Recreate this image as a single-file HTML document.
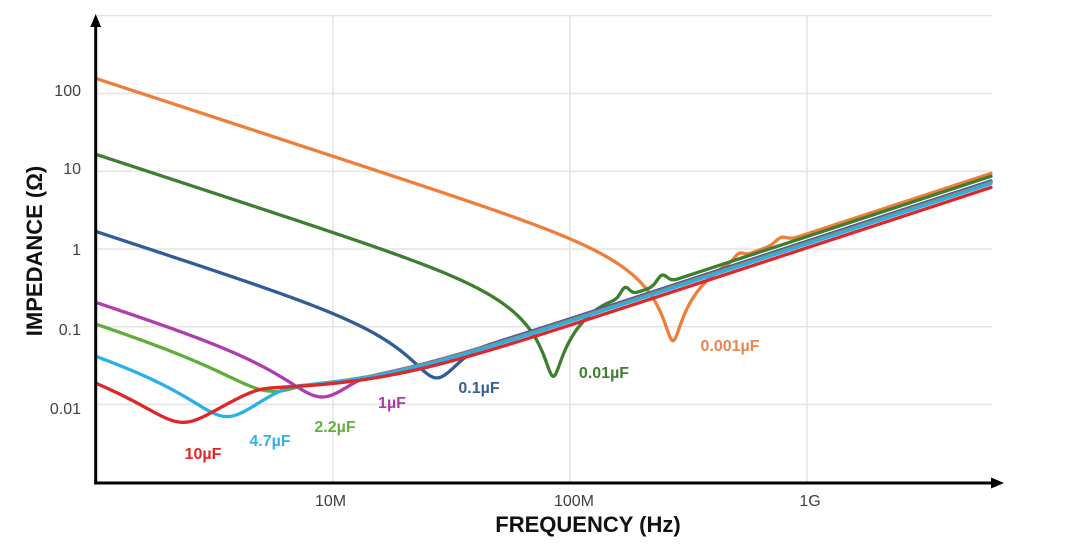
<!DOCTYPE html>
<html><head><meta charset="utf-8"><style>
html,body{margin:0;padding:0;background:#fff;}
svg{display:block;}
text{font-family:"Liberation Sans",Arial,sans-serif;}
</style></head><body>
<svg id="s" width="1080" height="549" viewBox="0 0 1080 549" xmlns="http://www.w3.org/2000/svg">
<rect width="1080" height="549" fill="#fff"/>
<g stroke="#e4e4e4" stroke-width="1.5" fill="none">
<line x1="97" y1="15.5" x2="992" y2="15.5"/>
<line x1="97" y1="93.5" x2="992" y2="93.5"/>
<line x1="97" y1="171.2" x2="992" y2="171.2"/>
<line x1="97" y1="249" x2="992" y2="249"/>
<line x1="97" y1="326.7" x2="992" y2="326.7"/>
<line x1="97" y1="404.4" x2="992" y2="404.4"/>
<line x1="333" y1="15.5" x2="333" y2="482"/>
<line x1="570" y1="15.5" x2="570" y2="482"/>
<line x1="807" y1="15.5" x2="807" y2="482"/>
</g>
<g id="curves" fill="none" stroke-width="3.3" stroke-linejoin="round" stroke-linecap="round"></g>
<g stroke="#000" stroke-width="3" fill="none">
<line x1="95.7" y1="484.5" x2="95.7" y2="25"/>
<line x1="94.2" y1="483" x2="993" y2="483"/>
</g>
<polygon points="95.7,14 90.3,27 101.1,27" fill="#000"/>
<polygon points="1004,483 991,477.5 991,488.5" fill="#000"/>
<g font-size="16" fill="#404040" text-anchor="end">
<text x="81" y="95.8">100</text>
<text x="81" y="173.8">10</text>
<text x="81" y="254.8">1</text>
<text x="81" y="334.8">0.1</text>
<text x="81" y="413.8">0.01</text>
</g>
<g font-size="16" fill="#404040" text-anchor="middle">
<text x="330.5" y="505.8">10M</text>
<text x="574" y="505.8">100M</text>
<text x="810" y="505.8">1G</text>
</g>
<g font-size="16" font-weight="bold" text-anchor="middle">
<text x="203" y="459" fill="#e0262a">10µF</text>
<text x="270" y="446" fill="#33b1e4">4.7µF</text>
<text x="335" y="432" fill="#66ad42">2.2µF</text>
<text x="392" y="408" fill="#ab3ca8">1µF</text>
<text x="479" y="393" fill="#365f95">0.1µF</text>
<text x="604" y="378" fill="#3f7f32">0.01µF</text>
<text x="730" y="351" fill="#e8864e">0.001µF</text>
</g>
<text x="588" y="532" font-size="22" font-weight="bold" fill="#111" text-anchor="middle">FREQUENCY (Hz)</text>
<text transform="translate(34,251) rotate(-90)" x="0" y="8" font-size="22" font-weight="bold" fill="#111" text-anchor="middle">IMPEDANCE (Ω)</text>
</svg>
<script>
(function(){
var NS="http://www.w3.org/2000/svg";
var g=document.getElementById("curves");
function X2f(x){return 1e7*Math.pow(10,(x-333)/237);}
function Y(z){return 249-77.75*Math.log10(z);}
var Rs=0.0155;
var curves=[
 {c:'#ee7f3a',C:1.02e-9,L1:3.36e-10,R:0.066,Ll:0.25e-9,b:[[739,5,6],[781,5,8]]},
 {c:'#3d7f2e',C:9.65e-9,L1:3.63e-10,R:0.023,Ll:0.23e-9,b:[[625,9,6],[662,9,7]]},
 {c:'#2f5d95',C:0.0947e-6,L1:3.56e-10,R:0.022,Ll:0.2e-9,b:[]},
 {c:'#b03cad',C:0.767e-6,L1:4.08e-10,R:0.0125,Ll:0.195e-9,b:[]},
 {c:'#5fae3c',C:1.44e-6,L1:5.65e-10,R:0.0148,Ll:0.19e-9,b:[]},
 {c:'#29b0e6',C:3.58e-6,L1:5.55e-10,R:0.007,Ll:0.185e-9,b:[]},
 {c:'#e0262a',C:7.3e-6,L1:6.39e-10,R:0.0059,Ll:0.165e-9,b:[]}
];
var s=2.5;
curves.forEach(function(k){
 var f0=1/(2*Math.PI*Math.sqrt(k.L1*k.C));
 var d="";
 for(var x=97;x<=991;x+=1){
  var f=X2f(x),w=2*Math.PI*f;
  var zs=Math.hypot(k.R,w*k.L1-1/(w*k.C));
  var zl=Math.hypot(Rs,w*k.Ll);
  var ys=Y(zs),yl=Y(zl),y;
  if(f<f0){y=ys;}
  else{
   var m=Math.max(ys,yl);
   y=m+s*Math.log(Math.exp((ys-m)/s)+Math.exp((yl-m)/s));
  }
  for(var i=0;i<k.b.length;i++){var bb=k.b[i];y-=bb[1]*Math.exp(-Math.pow((x-bb[0])/bb[2],2));}
  d+=(x===97?"M":"L")+x+","+y.toFixed(2);
 }
 var p=document.createElementNS(NS,"path");
 p.setAttribute("d",d);p.setAttribute("stroke",k.c);
 g.appendChild(p);
});
})();
</script>
</body></html>
